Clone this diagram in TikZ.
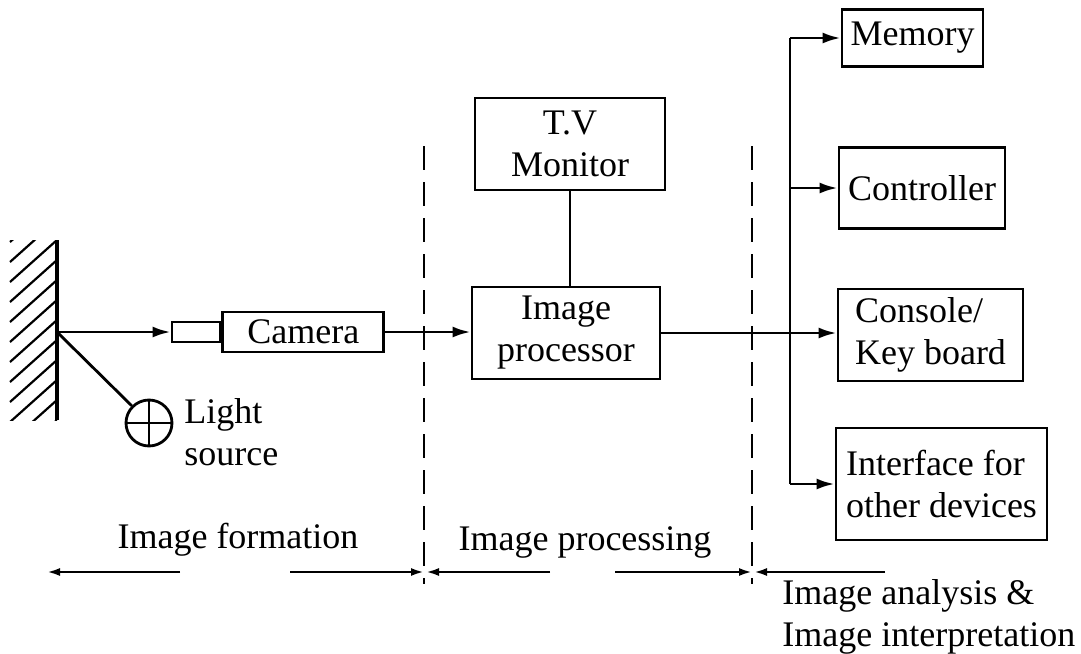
\documentclass[tikz,border=0pt]{standalone}
\usepackage{fontspec}
\setmainfont{Liberation Serif}
\usetikzlibrary{arrows.meta,positioning}

\begin{document}
\begin{tikzpicture}[x=0.5pt,y=-0.5pt,>={Latex[length=9pt,width=5.5pt]},
  line width=1.4pt,
  blk/.style={draw,line width=1.4pt,inner sep=2pt,font=\fontsize{18}{21}\selectfont},
  lbl/.style={inner sep=0pt,align=left,font=\fontsize{18}{21}\selectfont},
  sep/.style={line width=1pt,dash pattern=on 12pt off 6pt},
  span/.style={line width=1.2pt,-{Latex[length=6.5pt,width=4pt]}}]
  \useasboundingbox (0,0) rectangle (1081,653);

  % wall with hatching
  \begin{scope}
    \clip (8,240) rectangle (57,420);
    \foreach \y in {200,220,...,420}
      \draw[line width=1.1pt] (10,\y+42) -- (57,\y);
  \end{scope}
  \draw[line width=1.6pt] (57,240) -- (57,420);
  \coordinate (spot) at (57,332);

  % light source
  \node[draw,circle,minimum size=23pt,inner sep=0pt] (lamp) at (149,423) {};
  \draw (lamp.north) -- (lamp.south) (lamp.west) -- (lamp.east);
  \node[lbl,anchor=west] (lamptxt) at (183,432) {Light\\source};

  % camera and processing
  \node[blk,minimum width=24pt,minimum height=10pt] (lens) at (196,332) {};
  \node[blk,minimum width=80.5pt,minimum height=20pt,anchor=west] (camera) at (lens.east) {Camera};
  \node[blk,align=center,minimum width=94pt,minimum height=46pt] (proc) at (566,333) {Image\\processor};
  \node[blk,align=center,minimum width=95pt,minimum height=46pt] (tv) at (570,144) {T.V\\Monitor};

  % output devices
  \node[blk,minimum width=70.5pt,minimum height=28.5pt] (mem) at (912.5,38) {Memory};
  \node[blk,minimum width=83pt,minimum height=40.5pt] (ctrl) at (922,188) {Controller};
  \node[blk,align=left,minimum width=92.5pt,minimum height=46pt] (cons) at (930.5,335) {Console/\\Key board};
  \node[blk,align=left,minimum width=105.5pt,minimum height=56pt] (iface) at (941.5,484) {Interface for\\other devices};

  \draw[->] (spot) -- (lens);
  \draw (spot) -- (lamp.north west);
  \draw[->] (camera.east) -- (camera.east -| proc.west);
  \draw (tv.south) -- (tv.south |- proc.north);
  \draw[->] (proc.east) -- (proc.east -| cons.west);
  \coordinate (bus) at (790,0);
  \draw (bus |- mem.west) -- (bus |- iface.west);
  \foreach \b in {mem,ctrl,iface}
    \draw[->] (bus |- \b.west) -- (\b.west);

  % stage boundaries
  \coordinate (cutA) at (424,146);
  \coordinate (cutAend) at (424,584);
  \coordinate (cutB) at (752,146);
  \coordinate (cutBend) at (752,584);
  \draw[sep] (cutA) -- (cutAend);
  \draw[sep] (cutB) -- (cutBend);

  % stage spans
  \coordinate (fa) at (47,572);
  \coordinate (fb) at (180,572);
  \coordinate (fc) at (290,572);
  \coordinate (pa) at (550,572);
  \coordinate (pb) at (615,572);
  \coordinate (aa) at (885,572);
  \draw[span] (fb) -- (fa);
  \draw[span] (fc) -- (cutA |- fc);
  \draw[span] (pa) -- ([xshift=1pt]cutA |- pa);
  \draw[span] (pb) -- (cutB |- pb);
  \draw[span] (aa) -- ([xshift=1pt]cutB |- aa);

  \node[lbl] (formtxt) at (238,540) {Image formation};
  \node[lbl] (proctxt) at (585,542) {Image processing};
  \node[lbl,anchor=north west] (anatxt) at (781,578) {Image analysis \&\\Image interpretation};
\end{tikzpicture}
\end{document}
